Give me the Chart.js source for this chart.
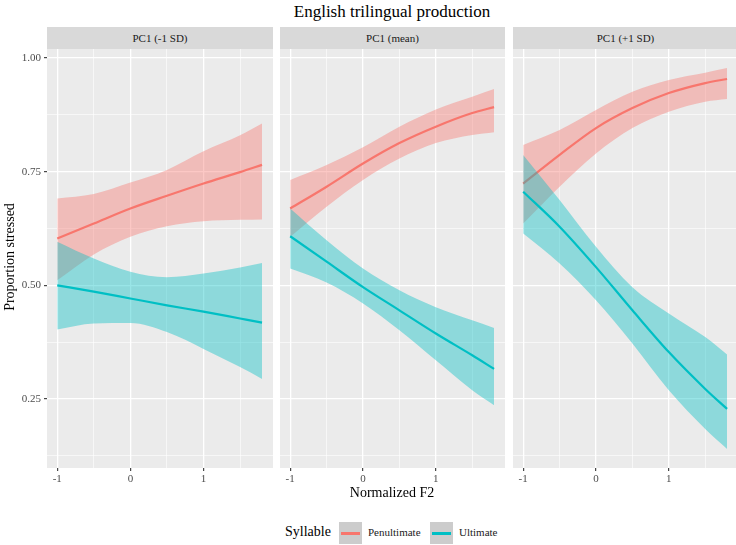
<!DOCTYPE html>
<html>
<head>
<meta charset="utf-8">
<script src="https://cdn.jsdelivr.net/npm/chart.js"></script>
<style>
  body { margin:0; width:736px; height:545px; overflow:hidden; background:#fff; position:relative;
         font-family:"Liberation Serif", serif; }
  .txt { position:absolute; white-space:nowrap; }
  .strip { position:absolute; top:27px; height:22px; background:#D9D9D9; color:#1A1A1A;
           font-size:11px; line-height:22px; text-align:center; }
  canvas { position:absolute; top:49px; }
  .key { position:absolute; top:522px; width:23px; height:22px; background:#CCCCCC; }
  .key div { position:absolute; left:2px; top:9.5px; width:19px; height:3px; }
</style>
</head>
<body>

<div class="txt" style="left:0; width:784px; top:2px; font-size:17px; text-align:center; color:#000;">English trilingual production</div>

<div class="strip" id="s0" style="left:47px; width:226px;"></div>
<div class="strip" id="s1" style="left:280px; width:225px;"></div>
<div class="strip" id="s2" style="left:513px; width:225px;"></div>

<canvas id="c0" width="273" height="441" style="left:0px;"></canvas>
<canvas id="c1" width="225" height="441" style="left:280px;"></canvas>
<canvas id="c2" width="225" height="441" style="left:513px;"></canvas>

<div class="txt" style="left:-45px; top:249px; width:110px; font-size:14px; text-align:center; transform:rotate(-90deg);">Proportion stressed</div>
<div class="txt" style="left:47px; width:690px; top:485px; font-size:14px; text-align:center;">Normalized F2</div>

<div class="txt" style="left:285px; top:524px; font-size:14px;">Syllable</div>
<div class="key" style="left:339px;"><div style="background:#F8766D;"></div></div>
<div class="txt" style="left:368px; top:526px; font-size:11px; color:#1A1A1A;">Penultimate</div>
<div class="key" style="left:430px;"><div style="background:#00BFC4;"></div></div>
<div class="txt" style="left:459px; top:526px; font-size:11px; color:#1A1A1A;">Ultimate</div>

<script>
    // facets and x positions of the fitted curves
    var panels = ['PC1 (-1 SD)', 'PC1 (mean)', 'PC1 (+1 SD)'];
    var xs = [-1, -0.5, 0, 0.5, 1, 1.5, 1.8];

    // grid positions (major ones get a label)
    var xGrid = [-1, -0.5, 0, 0.5, 1, 1.5];
    var yGrid = [0.125, 0.25, 0.375, 0.5, 0.625, 0.75, 0.875, 1.0];

    // Penultimate: fit, lower and upper band, per panel
    var penFit1 = [0.603, 0.636, 0.669, 0.697, 0.724, 0.749, 0.765];
    var penLo1  = [0.511, 0.568, 0.607, 0.630, 0.641, 0.644, 0.645];
    var penHi1  = [0.691, 0.701, 0.726, 0.754, 0.795, 0.830, 0.856];
    var penFit2 = [0.669, 0.717, 0.768, 0.813, 0.849, 0.879, 0.892];
    var penLo2  = [0.607, 0.673, 0.732, 0.779, 0.813, 0.831, 0.837];
    var penHi2  = [0.732, 0.765, 0.804, 0.849, 0.887, 0.915, 0.932];
    var penFit3 = [0.724, 0.787, 0.846, 0.890, 0.923, 0.945, 0.954];
    var penLo3  = [0.636, 0.717, 0.790, 0.846, 0.882, 0.904, 0.910];
    var penHi3  = [0.809, 0.842, 0.886, 0.926, 0.952, 0.968, 0.978];

    // Ultimate
    var ultFit1 = [0.500, 0.486, 0.471, 0.456, 0.442, 0.427, 0.418];
    var ultLo1  = [0.403, 0.416, 0.417, 0.397, 0.360, 0.320, 0.294];
    var ultHi1  = [0.596, 0.559, 0.530, 0.518, 0.526, 0.539, 0.549];
    var ultFit2 = [0.608, 0.552, 0.496, 0.445, 0.394, 0.346, 0.316];
    var ultLo2  = [0.537, 0.506, 0.460, 0.401, 0.335, 0.269, 0.236];
    var ultHi2  = [0.669, 0.599, 0.537, 0.489, 0.452, 0.423, 0.406];
    var ultFit3 = [0.706, 0.629, 0.540, 0.445, 0.353, 0.272, 0.228];
    var ultLo3  = [0.614, 0.548, 0.467, 0.372, 0.269, 0.184, 0.140];
    var ultHi3  = [0.787, 0.688, 0.585, 0.496, 0.438, 0.386, 0.348];

    var penCol = '#F8766D', ultCol = '#00BFC4';

    var pts = function(ys){ return xs.map(function(x, i){ return {x: x, y: ys[i]}; }); };
    var isMajor = function(v, n){ return Math.abs(v * n - Math.round(v * n)) < 1e-6; };

    var panelBg = {
        id: 'panelBg',
        beforeDraw: function(chart){
            var a = chart.chartArea, c = chart.ctx;
            c.save();
            c.fillStyle = '#EBEBEB';
            c.fillRect(a.left, a.top, a.right - a.left, a.bottom - a.top);
            c.restore();
        }
    };

    var tickFont = {family: 'Liberation Serif', size: 11};

    var make_panel = function(idx, pen, ult){
        document.getElementById('s' + idx).textContent = panels[idx];
        var first = idx === 0;
        var band = function(ys, col, tgt, ord){
            return {data: pts(ys), borderWidth: 0, pointRadius: 0, backgroundColor: col,
                    fill: tgt === null ? false : {target: tgt}, order: ord};
        };
        var line = function(ys, col, ord){
            return {data: pts(ys), borderColor: col, borderWidth: 2.2, pointRadius: 0, fill: false, order: ord};
        };
        new Chart(document.getElementById('c' + idx), {
            type: 'line',
            data: {
                datasets: [
                    band(pen[1], 'rgba(0,0,0,0)', null, 9),
                    band(pen[2], 'rgba(248,118,109,0.4)', 0, 5),
                    line(pen[0], penCol, 4),
                    band(ult[1], 'rgba(0,0,0,0)', null, 9),
                    band(ult[2], 'rgba(0,191,196,0.4)', 3, 2),
                    line(ult[0], ultCol, 1)
                ]
            },
            plugins: [panelBg],
            options: {
                responsive: false,
                animation: false,
                layout: {padding: 0},
                elements: {line: {cubicInterpolationMode: 'monotone'}},
                plugins: {legend: {display: false}, tooltip: {enabled: false}},
                scales: {
                    x: {
                        type: 'linear', bounds: 'data', min: -1.14, max: 1.95,
                        border: {display: false},
                        afterBuildTicks: function(s){ s.ticks = xGrid.map(function(v){ return {value: v}; }); },
                        grid: {
                            color: '#FFFFFF',
                            lineWidth: function(c){ return isMajor(c.tick.value, 1) ? 1.3 : 0.6; },
                            tickColor: function(c){ return isMajor(c.tick.value, 1) ? '#333333' : 'rgba(0,0,0,0)'; },
                            tickLength: 3, tickWidth: 1.1
                        },
                        ticks: {
                            autoSkip: false, maxRotation: 0,
                            padding: 2, color: '#4D4D4D', font: tickFont,
                            callback: function(v){ return isMajor(v, 1) ? String(v) : ''; }
                        },
                        afterFit: function(s){ s.height = 22; s.paddingLeft = 0; s.paddingRight = 0; }
                    },
                    y: {
                        type: 'linear', bounds: 'data', min: 0.098, max: 1.02,
                        border: {display: false},
                        afterBuildTicks: function(s){ s.ticks = yGrid.map(function(v){ return {value: v}; }); },
                        grid: {
                            color: '#FFFFFF',
                            lineWidth: function(c){ return isMajor(c.tick.value, 4) ? 1.3 : 0.6; },
                            tickColor: function(c){ return isMajor(c.tick.value, 4) ? '#333333' : 'rgba(0,0,0,0)'; },
                            drawTicks: first, tickLength: 3, tickWidth: 1.1
                        },
                        ticks: {
                            display: first, autoSkip: false,
                            padding: 3, color: '#4D4D4D', font: tickFont,
                            callback: function(v){ return isMajor(v, 4) ? v.toFixed(2) : ''; }
                        },
                        afterFit: function(s){ s.width = first ? 47 : 0; s.paddingTop = 0; s.paddingBottom = 0; }
                    }
                }
            }
        });
    };

    make_panel(0, [penFit1, penLo1, penHi1], [ultFit1, ultLo1, ultHi1]);
    make_panel(1, [penFit2, penLo2, penHi2], [ultFit2, ultLo2, ultHi2]);
    make_panel(2, [penFit3, penLo3, penHi3], [ultFit3, ultLo3, ultHi3]);
</script>
</body>
</html>
